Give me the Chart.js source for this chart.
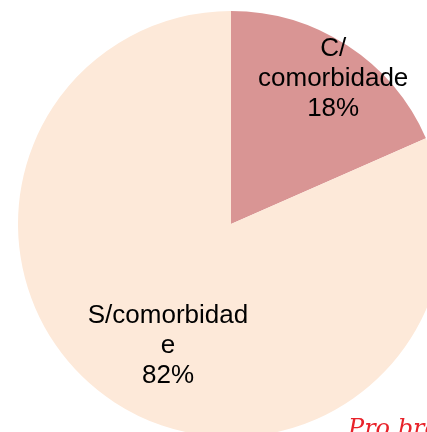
<!DOCTYPE html>
<html>
<head>
<meta charset="utf-8">
<script src="https://cdn.jsdelivr.net/npm/chart.js@4/dist/chart.umd.min.js"></script>
<style>
  html, body { margin: 0; padding: 0; background: #fff; overflow: hidden; width: 427px; height: 432px; }
  #wrap { position: absolute; left: 0; top: 0; width: 462px; height: 448px; }
  #sig { position: absolute; left: 348px; top: 414px; font: italic 24px "DejaVu Serif", serif; color: #e8232b; white-space: nowrap; }
</style>
</head>
<body>
<div id="wrap"><canvas id="c" width="462" height="448"></canvas></div>
<div id="sig">Pro bre</div>
<script>
const categories = ["C/\ncomorbidade", "S/comorbidad\ne"];
const values = [18.4, 81.6];
const sliceColors = ["#D99594", "#FDE9D9"];

const labelPlacement = [
  { angleOffset: 1.7, frac: 0.84 },
  { angleOffset: -5.4, frac: 0.636 }
];

const labelPlugin = {
  id: 'sliceLabels',
  afterDatasetsDraw(chart) {
    const ctx = chart.ctx;
    const meta = chart.getDatasetMeta(0);
    const total = values.reduce((a, b) => a + b, 0);
    ctx.save();
    ctx.fillStyle = '#000';
    ctx.font = '26px "Liberation Sans", Arial, sans-serif';
    ctx.textAlign = 'center';
    ctx.textBaseline = 'alphabetic';
    meta.data.forEach((arc, i) => {
      const p = arc.getProps(['x', 'y', 'startAngle', 'endAngle', 'outerRadius'], true);
      const mid = (p.startAngle + p.endAngle) / 2 + labelPlacement[i].angleOffset * Math.PI / 180;
      const r = p.outerRadius * labelPlacement[i].frac;
      const ax = p.x + Math.cos(mid) * r;
      const ay = p.y + Math.sin(mid) * r;
      const lines = categories[i].split("\n").concat([Math.round(values[i] / total * 100) + "%"]);
      const lh = 30;
      const n = lines.length;
      lines.forEach((ln, k) => {
        const by = ay + 9 + (k - (n - 1) / 2) * lh;
        ctx.fillText(ln, ax, by);
      });
    });
    ctx.restore();
  }
};

new Chart(document.getElementById('c'), {
  type: 'pie',
  data: {
    labels: categories.map(s => s.replace("\n", " ")),
    datasets: [{
      data: values,
      backgroundColor: sliceColors,
      borderWidth: 0
    }]
  },
  options: {
    responsive: false,
    animation: false,
    layout: { padding: { left: 18, right: 18, top: 11, bottom: 11 } },
    plugins: {
      legend: { display: false },
      tooltip: { enabled: false }
    }
  },
  plugins: [labelPlugin]
});
</script>
</body>
</html>
